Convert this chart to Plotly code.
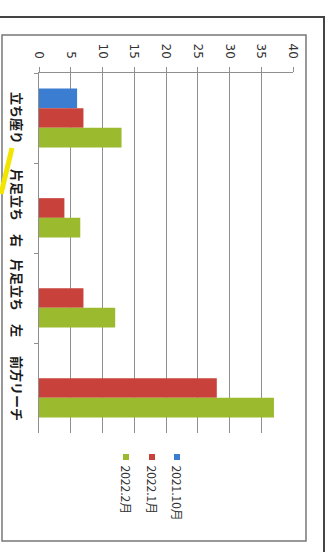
import plotly.graph_objects as go

categories = ["立ち座り", "片足立ち　右", "片足立ち　左", "前方リーチ"]
series_names = ["2021.10月", "2022.1月", "2022.2月"]
values_2021_10 = [6, None, None, None]
values_2022_1 = [7, 4, 7, 28]
values_2022_2 = [13, 6.5, 12, 37]
x_ticks = [0, 5, 10, 15, 20, 25, 30, 35, 40]

colors = ["#3b7dd0", "#c8413a", "#9cba2e"]
series_values = [values_2021_10, values_2022_1, values_2022_2]

W, H = 331, 552
ml, mr, mt, mb = 39, 38, 73, 119
PW, PH = W - ml - mr, H - mt - mb

fig = go.Figure()
for name, vals, col in zip(series_names, series_values, colors):
    fig.add_trace(go.Bar(
        y=categories, x=vals, name=name, orientation="h",
        marker=dict(color=col, line=dict(width=0)),
        showlegend=False,
    ))

font_jp = "Noto Sans CJK JP"

fig.update_layout(
    width=W, height=H,
    margin=dict(l=ml, r=mr, t=mt, b=mb, pad=0),
    paper_bgcolor="white", plot_bgcolor="white",
    barmode="group", bargap=0.344, bargroupgap=0,
    font=dict(family=font_jp, color="#333333"),
    xaxis=dict(
        side="top", range=[0, 40], tickvals=x_ticks,
        ticktext=[str(t) for t in x_ticks], tickangle=90,
        showgrid=True, gridcolor="#8f8f8f", gridwidth=1,
        zeroline=False, showline=True, linecolor="#8f8f8f", linewidth=1,
        ticks="outside", ticklen=5, tickcolor="#8f8f8f",
        tickfont=dict(size=12, family="DejaVu Sans", color="#333333"),
        ticklabelstandoff=4,
    ),
    yaxis=dict(
        autorange="reversed", type="category",
        showline=True, linecolor="#8f8f8f", linewidth=1,
        ticks="outside", ticklen=4, tickcolor="#8f8f8f",
        tickson="boundaries", showgrid=False,
        showticklabels=False,
    ),
)

# rotated category labels
for c in categories:
    fig.add_annotation(
        x=-21 / PW, xref="paper", y=c, yref="y",
        text=c, textangle=90, showarrow=False,
        xanchor="center", yanchor="middle",
        font=dict(size=13, family=font_jp, color="#1a1a1a", weight="bold"),
    )

# rotated legend
leg_x = [177, 152, 126]
for name, col, lx in zip(series_names, colors, leg_x):
    fig.add_shape(type="rect", xref="paper", yref="paper",
                  x0=(lx - 3 - ml) / PW, x1=(lx + 3 - ml) / PW,
                  y0=(H - mb - 460) / PH, y1=(H - mb - 454) / PH,
                  fillcolor=col, line=dict(width=0))
    fig.add_annotation(
        x=(lx - ml) / PW, xref="paper",
        y=(H - mb - 463) / PH, yref="paper",
        text=name, textangle=90, showarrow=False,
        xanchor="center", yanchor="top",
        font=dict(size=12, family="Noto Sans CJK JP", color="#333333"),
    )

def px_rect(x0, y0, x1, y1, color, width):
    fig.add_shape(type="rect", xref="paper", yref="paper",
                  x0=(x0 - ml) / PW, x1=(x1 - ml) / PW,
                  y0=(H - mb - y1) / PH, y1=(H - mb - y0) / PH,
                  line=dict(color=color, width=width), fillcolor="rgba(0,0,0,0)",
                  layer="above")

# frames
px_rect(-5, 17, 324, 600, "#444444", 2)
px_rect(2, 35, 306, 541, "#777777", 1.5)

# yellow highlighter stroke
fig.add_shape(type="line", xref="paper", yref="paper",
              x0=(12 - ml) / PW, y0=(H - mb - 148) / PH,
              x1=(1 - ml) / PW, y1=(H - mb - 194) / PH,
              line=dict(color="#f2e600", width=5))

fig.write_html("out.html")
